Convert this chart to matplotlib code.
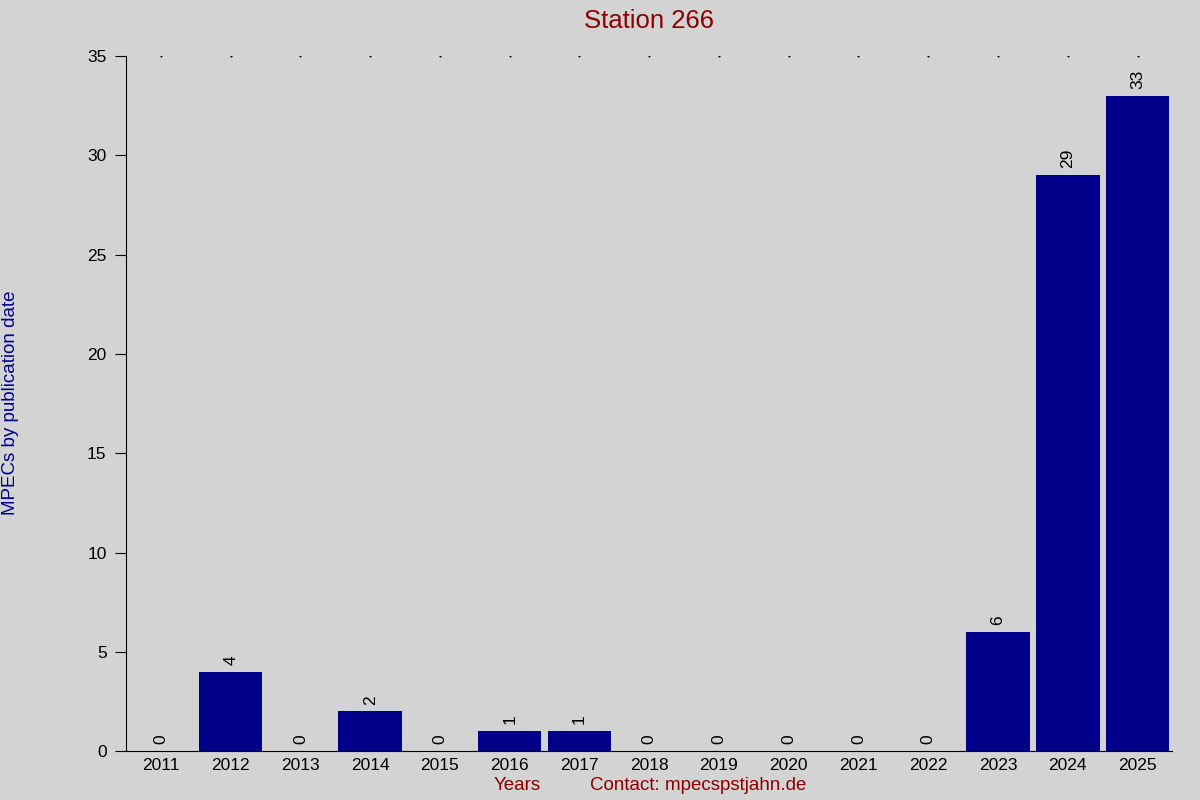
import matplotlib
matplotlib.use('Agg')
import matplotlib.pyplot as plt

years = ['2011', '2012', '2013', '2014', '2015', '2016', '2017', '2018',
         '2019', '2020', '2021', '2022', '2023', '2024', '2025']
counts = [0, 4, 0, 2, 0, 1, 1, 0, 0, 0, 0, 0, 6, 29, 33]

plt.rcParams['font.family'] = ['Liberation Sans', 'DejaVu Sans']

bg = '#d3d3d3'
fig = plt.figure(figsize=(12, 8), dpi=100, facecolor=bg)
ax = fig.add_axes([0.105, 0.061, 0.872, 0.869], facecolor=bg)

x = list(range(len(years)))
ax.bar(x, counts, width=0.91, color='#00008b')
for xi, c in zip(x, counts):
  ax.annotate(str(c), (xi, c), xytext=(0, 5), textcoords='offset points',
              rotation=90, ha='center', va='bottom', fontsize=12.5)

# tiny dots along the top
ax.plot(x, [35] * len(x), linestyle='none', marker='s', markersize=0.5,
        color='black')

ax.set_xlim(-0.5, len(years) - 0.5)
ax.set_ylim(0, 35)
ax.set_yticks(range(0, 36, 5))
ax.set_xticks(x)
ax.set_xticklabels(years)
ax.tick_params(axis='x', length=0, labelsize=12.5, pad=5)
ax.tick_params(axis='y', length=8, labelsize=12.5, direction='out', pad=6)
ax.spines['top'].set_visible(False)
ax.spines['right'].set_visible(False)

ax.set_title('Station 266', color='#8b0000', fontsize=18.5, pad=20)
fig.text(11 / 1200, 1 - 403 / 800, 'MPECs by publication date',
         color='#00008b', fontsize=13.5, rotation=90, ha='center',
         va='center')
fig.text(517 / 1200, 1 - 786 / 800, 'Years', color='#8b0000',
         fontsize=13.5, ha='center', va='center')
fig.text(698 / 1200, 1 - 786 / 800, 'Contact: mpecspstjahn.de',
         color='#8b0000', fontsize=13.5, ha='center', va='center')

fig.savefig('out.png', dpi=100, facecolor=bg)
